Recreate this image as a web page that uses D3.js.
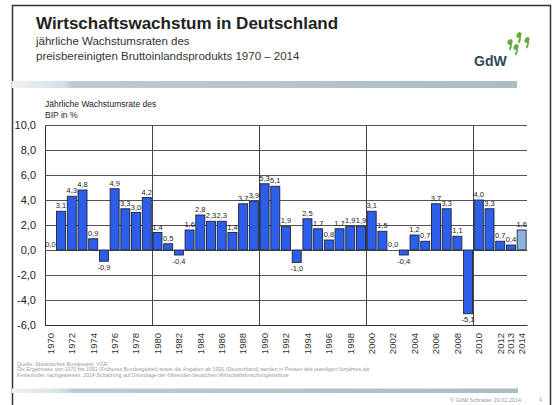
<!DOCTYPE html>
<html>
<head>
<meta charset="utf-8">
<script src="https://cdn.jsdelivr.net/npm/d3@7"></script>
<style>
  body { margin: 0; background: #fff; }
  svg { display: block; font-family: "Liberation Sans", Arial, sans-serif; }
</style>
</head>
<body>
<svg id="chart" width="555" height="405"></svg>
<script>
// Jahre und Wachstumsraten (BIP, preisbereinigt, in %)
const years = d3.range(1970, 2015);
const growth = [0.0, 3.1, 4.3, 4.8, 0.9, -0.9, 4.9, 3.3, 3.0, 4.2,
                1.4, 0.5, -0.4, 1.6, 2.8, 2.3, 2.3, 1.4, 3.7, 3.9,
                5.3, 5.1, 1.9, -1.0, 2.5, 1.7, 0.8, 1.7, 1.9, 1.9,
                3.1, 1.5, 0.0, -0.4, 1.2, 0.7, 3.7, 3.3, 1.1, -5.1,
                4.0, 3.3, 0.7, 0.4, 1.6];
const estimateYear = 2014;
const yTicks = [-6, -4, -2, 0, 2, 4, 6, 8, 10];
const xTickYears = [1970, 1972, 1974, 1976, 1978, 1980, 1982, 1984, 1986, 1988,
                    1990, 1992, 1994, 1996, 1998, 2000, 2002, 2004, 2006, 2008,
                    2010, 2012, 2013, 2014];
const decadeLines = [1980, 1990, 2000, 2010];

const de = d3.formatLocale({decimal: ",", thousands: ".", grouping: [3], currency: ["", " €"], minus: "-"});
const fmt = de.format(".1f");

const svg = d3.select('#chart');
const defs = svg.append('defs');

// Verlaufsbalken (Folienlayout)
const g1 = defs.append('linearGradient').attr('id', 'barHead');
g1.append('stop').attr('offset', '0%').attr('stop-color', '#eef2f4');
g1.append('stop').attr('offset', '10%').attr('stop-color', '#d5e0e4');
g1.append('stop').attr('offset', '12%').attr('stop-color', '#bccbd1');
g1.append('stop').attr('offset', '100%').attr('stop-color', '#aabdc4');

// Folienrahmen
svg.append('path')
  .attr('d', 'M12.5,405 V5.5 H550.5 V405')
  .attr('fill', 'none').attr('stroke', '#333').attr('stroke-width', 1.5);

svg.append('text')
  .attr('x', 36).attr('y', 29)
  .attr('font-size', 17).attr('font-weight', 'bold').attr('fill', '#222')
  .text('Wirtschaftswachstum in Deutschland');
svg.append('text')
  .attr('x', 36).attr('y', 45)
  .attr('font-size', 11.5).attr('fill', '#333')
  .text('jährliche Wachstumsraten des');
svg.append('text')
  .attr('x', 36).attr('y', 59.5)
  .attr('font-size', 11.5).attr('fill', '#333')
  .text('preisbereinigten Bruttoinlandsprodukts 1970 – 2014');

// Logo
svg.append('text')
  .attr('x', 474).attr('y', 66)
  .attr('font-size', 14).attr('font-weight', 'bold').attr('fill', '#2d4858')
  .text('GdW');
const sprouts = [[510, 42], [516, 47], [519, 35], [527, 40]];
const sp = svg.append('g').selectAll('g').data(sprouts).join('g')
  .attr('transform', d => `translate(${d[0]},${d[1]})`);
sp.append('ellipse')
  .attr('rx', 2.3).attr('ry', 3).attr('transform', 'rotate(35)')
  .attr('fill', '#6aa93c');
sp.append('path')
  .attr('d', 'M1,1 Q1.5,5 -0.5,8')
  .attr('fill', 'none').attr('stroke', '#6aa93c').attr('stroke-width', 1.8);

svg.append('rect')
  .attr('x', 12).attr('y', 81).attr('width', 505).attr('height', 7)
  .attr('fill', 'url(#barHead)');

// Diagramm
const x = d3.scaleBand()
  .domain(years)
  .range([45, 527])
  .paddingInner(0.16)
  .paddingOuter(0.08);
const y = d3.scaleLinear()
  .domain([-6, 10])
  .range([325, 125]);

const half = x.step() * x.paddingInner() / 2;

svg.append('text')
  .attr('x', 45).attr('y', 107)
  .attr('font-size', 8.5).attr('fill', '#222')
  .text('Jährliche Wachstumsrate des');
svg.append('text')
  .attr('x', 45).attr('y', 117.5)
  .attr('font-size', 8.5).attr('fill', '#222')
  .text('BIP in %');

const yAxis = svg.append('g')
  .attr('transform', 'translate(45,0)')
  .call(d3.axisLeft(y).tickValues(yTicks).tickFormat(fmt)
    .tickSize(-482).tickPadding(9));
yAxis.select('.domain').attr('stroke', '#333');
yAxis.selectAll('.tick line').attr('stroke', '#555');
yAxis.selectAll('.tick text')
  .attr('font-size', 11).attr('fill', '#222')
  .attr('font-family', '"Liberation Sans", Arial, sans-serif');

svg.append('g').selectAll('line').data(decadeLines).join('line')
  .attr('x1', d => Math.round(x(d) - half) + 0.5)
  .attr('x2', d => Math.round(x(d) - half) + 0.5)
  .attr('y1', y(10)).attr('y2', y(-6))
  .attr('stroke', '#444');

const data = years.map((yr, i) => ({year: yr, value: growth[i]}));

svg.append('g').selectAll('rect').data(data).join('rect')
  .attr('x', d => x(d.year))
  .attr('width', x.bandwidth())
  .attr('y', d => y(Math.max(0, d.value)))
  .attr('height', d => Math.abs(y(d.value) - y(0)))
  .attr('fill', d => d.year === estimateYear ? '#8fb2dc' : '#2c5ee9')
  .attr('stroke', '#1c2436')
  .attr('stroke-width', 0.9);

svg.append('g').selectAll('text').data(data).join('text')
  .attr('x', d => x(d.year) + x.bandwidth() / 2)
  .attr('y', d => d.value < 0 ? y(d.value) + 8.5 : y(d.value) - 3)
  .attr('text-anchor', 'middle')
  .attr('font-size', 7.5).attr('fill', '#222')
  .text(d => fmt(d.value));

const xAxis = svg.append('g')
  .attr('transform', `translate(0,${y(-6)})`)
  .call(d3.axisBottom(x).tickValues(xTickYears).tickSize(0));
xAxis.select('.domain').attr('stroke', '#333');
xAxis.selectAll('.tick text')
  .attr('font-size', 9.5).attr('fill', '#333')
  .attr('font-family', '"Liberation Sans", Arial, sans-serif')
  .attr('text-anchor', 'end')
  .attr('transform', 'rotate(-90)')
  .attr('x', -8).attr('y', 0).attr('dy', '0.35em');

// Fußzeile
const notes = [
  'Quelle: Statistisches Bundesamt, VGR.',
  'Die Ergebnisse von 1970 bis 1991 (Früheres Bundesgebiet) sowie die Angaben ab 1991 (Deutschland) werden in Preisen des jeweiligen Vorjahres als',
  'Kettenindex nachgewiesen. 2014 Schätzung auf Grundlage der führenden deutschen Wirtschaftsforschungsinstitute'
];
svg.append('g').selectAll('text').data(notes).join('text')
  .attr('x', 17).attr('y', (d, i) => 366 + i * 5.3)
  .attr('font-size', 5.3).attr('fill', '#9a9a9a')
  .text(d => d);

svg.append('rect')
  .attr('x', 12).attr('y', 388.5).attr('width', 506).attr('height', 4.5)
  .attr('fill', 'url(#barHead)');

svg.append('text')
  .attr('x', 521).attr('y', 402).attr('text-anchor', 'end')
  .attr('font-size', 5.5).attr('fill', '#9a9a9a')
  .text('© GdW Schrader 19.02.2014');
svg.append('text')
  .attr('x', 539).attr('y', 401)
  .attr('font-size', 5.5).attr('fill', '#9a9a9a')
  .text('1');
</script>
</body>
</html>
